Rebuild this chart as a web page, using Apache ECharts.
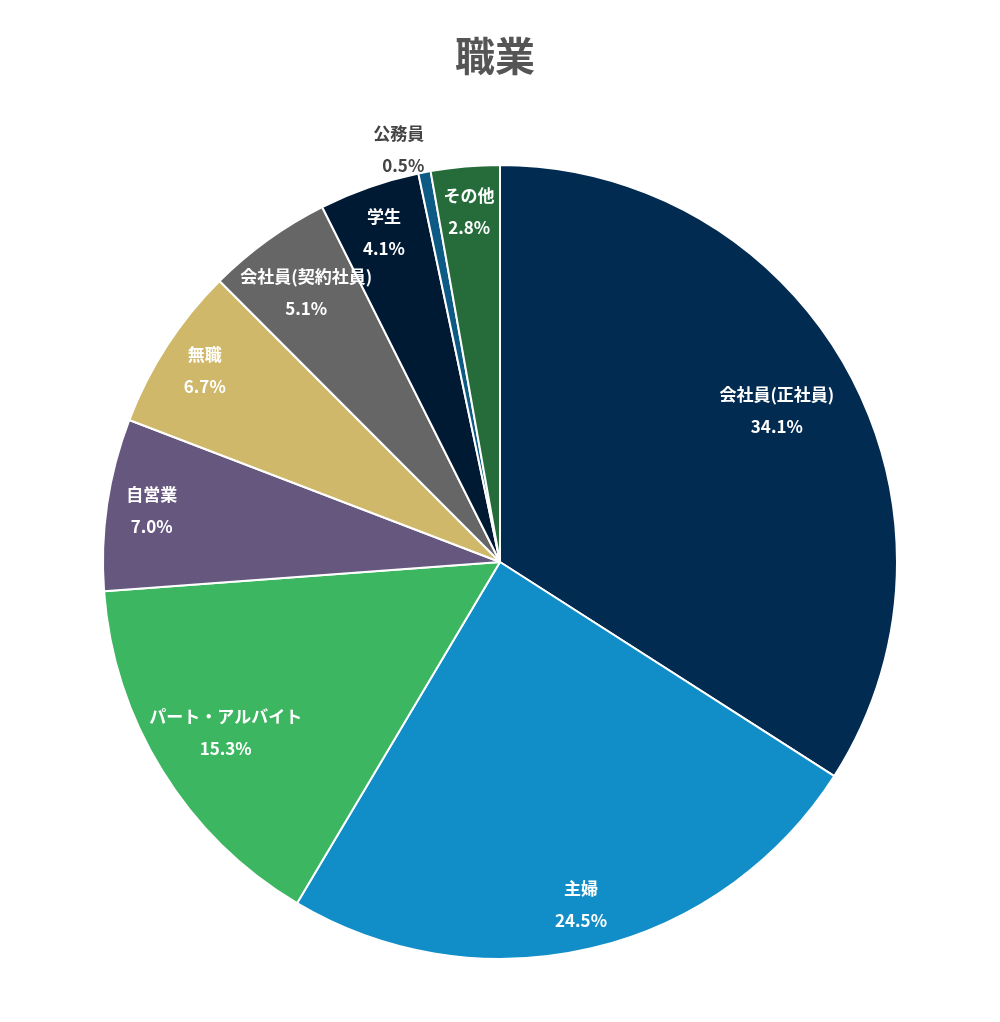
<!DOCTYPE html>
<html>
<head>
    <meta charset="UTF-8">
    <title>職業</title>
    <style>
        html, body {margin: 0; padding: 0; background: #fff;}
        #main {width: 1000px; height: 1022px;}
    </style>
</head>
<body>
<div id="main"></div>
<script src="https://cdn.jsdelivr.net/npm/echarts@6/dist/echarts.min.js"></script>
<script type="text/javascript">
    // 職業別の割合（%）
    var categories = ['会社員(正社員)', '主婦', 'パート・アルバイト', '自営業', '無職', '会社員(契約社員)', '学生', '公務員', 'その他'];
    var values = [34.1, 24.5, 15.3, 7.0, 6.7, 5.1, 4.1, 0.5, 2.8];
    var colors = ['#012b50', '#118ec7', '#3db662', '#66577f', '#cfb86a', '#666666', '#011a33', '#0d5a84', '#266c3a'];
    // 外側にラベルを出す項目
    var outsideNames = ['公務員'];

    var font = '"Noto Sans CJK JP", "Noto Sans", sans-serif';

    var pieData = categories.map(function (name, i) {
        return {name: name, value: values[i], itemStyle: {color: colors[i]}};
    });

    // ラベル用の透明リング（ラベルを外周寄りに置くため）
    var insideData = categories.map(function (name, i) {
        var item = {name: name, value: values[i]};
        if (outsideNames.indexOf(name) >= 0) item.label = {show: false};
        if (name === '会社員(正社員)') item.label = {offset: [-32, 17]};
        if (name === 'パート・アルバイト') item.label = {offset: [25, -15]};
        if (name === '会社員(契約社員)') item.label = {offset: [12, 16]};
        if (name === '学生') item.label = {offset: [0, 3]};
        return item;
    });
    var outsideData = categories.map(function (name, i) {
        var item = {name: name, value: values[i]};
        if (outsideNames.indexOf(name) < 0) item.label = {show: false};
        else item.label = {offset: [9, -1]};
        return item;
    });

    var labelText = function (p) {
        return p.name + '\n' + p.value.toFixed(1) + '%';
    };

    var myChart = echarts.init(document.getElementById('main'));
    myChart.setOption({
        animation: false,
        title: {
            text: '職業',
            left: 450,
            top: 31,
            textStyle: {fontSize: 40, fontWeight: 'bold', color: '#555555', fontFamily: font}
        },
        series: [{
            type: 'pie',
            center: [500, 562],
            radius: [0, 397],
            startAngle: 90,
            silent: true,
            label: {show: false},
            labelLine: {show: false},
            itemStyle: {borderColor: '#ffffff', borderWidth: 2},
            data: pieData
        }, {
            type: 'pie',
            center: [500, 562],
            radius: [301, 397],
            startAngle: 90,
            silent: true,
            avoidLabelOverlap: false,
            labelLayout: {hideOverlap: false},
            itemStyle: {color: 'rgba(0,0,0,0)', borderWidth: 0},
            label: {
                show: true,
                position: 'inside',
                color: '#ffffff',
                fontSize: 17,
                fontWeight: 'bold',
                fontFamily: font,
                lineHeight: 32,
                formatter: labelText
            },
            labelLine: {show: false},
            data: insideData
        }, {
            type: 'pie',
            center: [500, 562],
            radius: [0, 397],
            startAngle: 90,
            silent: true,
            avoidLabelOverlap: false,
            labelLayout: {hideOverlap: false},
            itemStyle: {color: 'rgba(0,0,0,0)', borderWidth: 0},
            label: {
                show: true,
                position: 'outside',
                color: '#444444',
                fontSize: 17,
                fontWeight: 'bold',
                fontFamily: font,
                lineHeight: 32,
                formatter: labelText
            },
            labelLine: {show: false, length: 22, length2: 0},
            data: outsideData
        }]
    });
</script>
</body>
</html>
